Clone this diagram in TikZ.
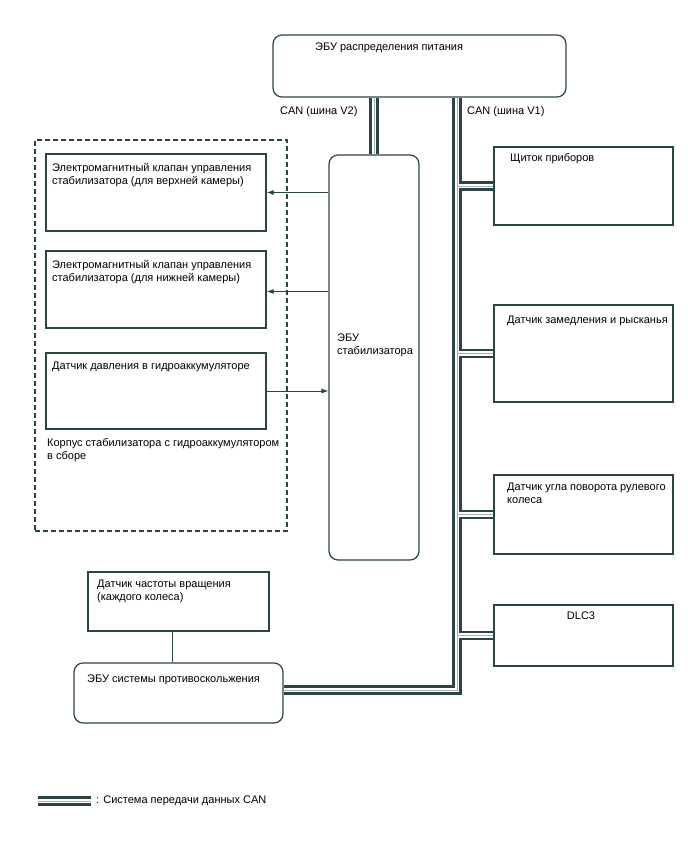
\documentclass[tikz,border=0pt]{standalone}
\usepackage{fontspec}
\setmainfont{Liberation Sans}
\usetikzlibrary{arrows.meta,fit,backgrounds}
\definecolor{slate}{RGB}{45,68,68}
\definecolor{busmid}{RGB}{165,176,176}
\tikzset{
  unit box/.style={
    draw=slate, line width=1.2pt, fill=white, inner sep=0pt
  },
  ecu box/.style={
    draw=slate, line width=1.2pt, fill=white, inner sep=0pt, rounded corners=9pt
  },
  group box/.style={
    draw=slate, line width=1.2pt, dash pattern=on 5pt off 3pt, inner sep=0pt
  },
  box text/.style={
    anchor=base west, inner sep=0pt, align=left, font=\fontsize{11}{13}\selectfont
  },
  can bus/.style={
    draw=white, line width=4.4pt,
    preaction={draw=slate, line width=9.6pt},
    postaction={draw=busmid, line width=1pt}
  },
  sig wire/.style={
    draw=slate, line width=0.9pt
  },
  sig arrow/.style={
    draw=slate, line width=0.9pt, -{Latex[length=7pt,width=5pt]}
  }
}

\begin{document}
\begin{tikzpicture}[x=1pt, y=-1pt]
  \useasboundingbox (0,0) rectangle (688,852);

% ------------------------------------------------
% 上方：电源分配 ECU 与稳定器 ECU
% ------------------------------------------------
  \node[ecu box]   (pwr)  [fit={(273,35) (566,97)}]   {};
  \node[ecu box]   (stab) [fit={(329,155) (419,560)}] {};
  \node[box text]  (pwrT) at (315,50)  {ЭБУ распределения питания};
  \node[box text]  (stabT) at (337,354) {ЭБУ\\стабилизатора};
  \node[box text]  (v2T)  at (280,114) {CAN (шина V2)};
  \node[box text]  (v1T)  at (467,114) {CAN (шина V1)};

% ------------------------------------------------
% 左侧：虚线框内的稳定器总成
% ------------------------------------------------
  \node[group box] (grp)     [fit={(35,140) (287,531)}]  {};
  \node[unit box]  (valveup) [fit={(46,154) (266,231)}]  {};
  \node[unit box]  (valvedn) [fit={(46,251) (266,328)}]  {};
  \node[unit box]  (press)   [fit={(46,353) (266,429)}]  {};
  \node[box text]  (valveupT) at (52,184)
    {Электромагнитный клапан управления\\стабилизатора (для верхней камеры)};
  \node[box text]  (valvednT) at (52,281)
    {Электромагнитный клапан управления\\стабилизатора (для нижней камеры)};
  \node[box text]  (pressT)   at (52,369) {Датчик давления в гидроаккумуляторе};
  \node[box text]  (grpT)     at (47,459)
    {Корпус стабилизатора с гидроаккумулятором\\в сборе};

  \draw[sig arrow] (stab.west |- valveup.east) -- (valveup.east);
  \draw[sig arrow] ([yshift=-2]stab.west |- valvedn.east) -- ([yshift=-2]valvedn.east);
  \draw[sig arrow] (press.east) -- (stab.west |- press.east);

% ------------------------------------------------
% 右侧：CAN V1 上的各单元
% ------------------------------------------------
  \node[unit box]  (meter) [fit={(494,147) (673,225)}] {};
  \node[unit box]  (yaw)   [fit={(494,305) (673,402)}] {};
  \node[unit box]  (steer) [fit={(494,475) (673,554)}] {};
  \node[unit box]  (dlc)   [fit={(494,605) (673,666)}] {};
  \node[box text]  (meterT) at (510,161) {Щиток приборов};
  \node[box text]  (yawT)   at (507,323) {Датчик замедления и рысканья};
  \node[box text]  (steerT) at (507,503) {Датчик угла поворота рулевого\\колеса};
  \node[box text, anchor=base] (dlcT) at (581,619) {DLC3};

% ------------------------------------------------
% 下方：轮速传感器与防滑 ECU
% ------------------------------------------------
  \node[unit box]  (wheel) [fit={(88,572) (269,631)}] {};
  \node[ecu box]   (abs)   [fit={(74,663) (283,723)}] {};
  \node[box text]  (wheelT) at (97,600) {Датчик частоты вращения\\(каждого колеса)};
  \node[box text]  (absT)   at (87,682) {ЭБУ системы противоскольжения};
  \draw[sig wire] ([xshift=-6]wheel.south) -- ([xshift=-6]wheel.south |- abs.north);

% ------------------------------------------------
% CAN 总线与图例
% ------------------------------------------------
  \coordinate (busturn) at (457,690);
  \coordinate (legA) at (38,801);
  \coordinate (legB) at (91,801);
  \begin{scope}[on background layer]
    \draw[can bus]
      (pwr.south -| stab.north) -- (stab.north)
      (pwr.south -| busturn) -- (busturn) -- (abs.east |- busturn)
      (meter.west -| busturn) -- (meter.west)
      (yaw.west -| busturn)   -- (yaw.west)
      (steer.west -| busturn) -- (steer.west)
      (dlc.west -| busturn)   -- (dlc.west);
  \end{scope}
  \draw[can bus] (legA) -- (legB);
  \node[box text, anchor=west] (legT) at (96,801) {: Система передачи данных CAN};
\end{tikzpicture}
\end{document}
